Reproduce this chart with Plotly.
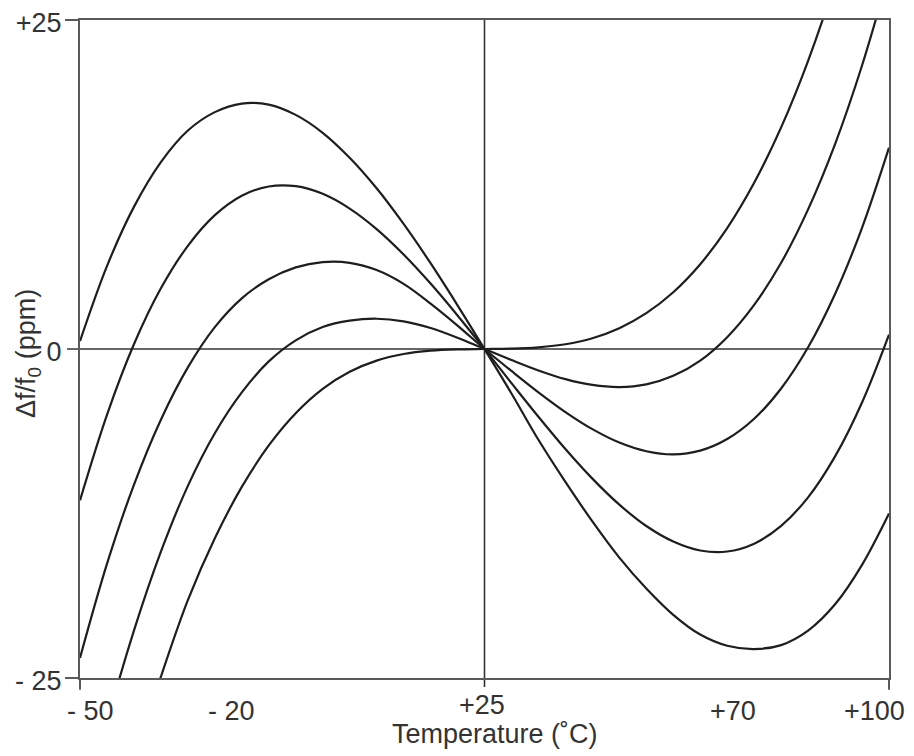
import plotly.graph_objects as go

# Temperature samples (deg C)
temps = [-50, -45, -40, -35, -30, -25, -20, -15, -10, -5, 0, 5, 10, 15, 20, 25,
         30, 35, 40, 45, 50, 55, 60, 65, 70, 75, 80, 85, 90, 95, 100]

# Frequency deviation (ppm), one list per curve
curve_a = [0.60, 6.3, 10.8, 14.2, 16.6, 18.0, 18.65, 18.57, 17.79, 16.43, 14.53, 12.21, 9.50, 6.52, 3.32, 0,
           -3.38, -6.9, -10.1, -13.1, -15.85, -18.2, -20.2, -21.7, -22.55, -22.8, -22.5, -21.4, -19.4, -16.4, -12.5]
curve_b = [-11.50, -5.00, 0.36, 4.61, 7.84, 10.17, 11.65, 12.35, 12.37, 11.79, 10.67, 9.11, 7.18, 4.97, 2.55, 0,
           -2.59, -5.15, -7.60, -9.85, -11.83, -13.45, -14.63, -15.31, -15.39, -14.79, -13.44, -11.27, -8.16, -4.06, 1.10]
curve_c = [-23.48, -16.33, -10.32, -5.37, -1.40, 1.66, 3.85, 5.3, 6.2, 6.6, 6.55, 6.0, 4.95, 3.45, 1.78, 0,
           -1.67, -3.29, -4.79, -6.09, -7.11, -7.77, -8.01, -7.72, -6.84, -5.30, -3.00, 0.13, 4.18, 9.21, 15.30]
curve_d = [-36.5, -28.4, -21.4, -15.4, -10.4, -6.4, -3.3, -0.94, 0.66, 1.67, 2.15, 2.3, 2.1, 1.6, 0.86, 0,
           -0.84, -1.63, -2.29, -2.73, -2.89, -2.69, -2.04, -0.88, 0.90, 3.35, 6.55, 10.61, 15.57, 21.54, 28.57]
curve_e = [-47.5, -38.9, -31.4, -24.9, -19.08, -14.38, -10.48, -7.33, -4.88, -3.03, -1.73, -0.88, -0.38, -0.13, -0.03, 0,
           0.03, 0.13, 0.36, 0.82, 1.58, 2.72, 4.31, 6.44, 9.19, 12.63, 16.84, 21.90, 27.90, 34.90, 42.99]

x_tick_vals = [-50, -20, 25, 70, 100]
x_tick_text = ["- 50", "- 20", "+25", "+70", "+100"]
y_tick_vals = [-25, 0, 25]
y_tick_text = ["- 25", "0", "+25"]

FONT = "Liberation Sans, Arial, sans-serif"
FS = 27
CURVE_COLOR = "#1e1e1e"
FRAME_COLOR = "#5a5a5a"
TEXT_COLOR = "#333333"

fig = go.Figure()
for ys in [curve_a, curve_b, curve_c, curve_d, curve_e]:
    fig.add_trace(go.Scatter(x=temps, y=ys, mode="lines",
                             line=dict(color=CURVE_COLOR, width=2.2, shape="spline", smoothing=1.0),
                             hoverinfo="skip", showlegend=False))

shapes = []
# zero reference lines (extend slightly beyond frame)
shapes.append(dict(type="line", xref="paper", yref="y", x0=-0.016, x1=1, y0=0, y1=0,
                   line=dict(color="#333333", width=1.6), layer="below"))
shapes.append(dict(type="line", xref="x", yref="paper", x0=25, x1=25, y0=-0.0137, y1=1,
                   line=dict(color="#333333", width=1.6), layer="below"))
# small stub extensions of the frame
shapes.append(dict(type="line", xref="paper", yref="paper", x0=-0.0185, x1=0, y0=1, y1=1,
                   line=dict(color=FRAME_COLOR, width=2)))
shapes.append(dict(type="line", xref="paper", yref="paper", x0=-0.0185, x1=0, y0=0, y1=0,
                   line=dict(color=FRAME_COLOR, width=2)))
shapes.append(dict(type="line", xref="paper", yref="paper", x0=0, x1=0, y0=-0.018, y1=0,
                   line=dict(color=FRAME_COLOR, width=2)))
shapes.append(dict(type="line", xref="paper", yref="paper", x0=1, x1=1, y0=-0.018, y1=0,
                   line=dict(color=FRAME_COLOR, width=2)))

# x tick labels placed at their data positions (small pixel nudges as in the reference)
x_label_shift = [10, -10, -3, 6, -15]
x_label_y = [-0.0502, -0.0502, -0.041, -0.0502, -0.0502]
annotations = []
for v, t, dx, yy in zip(x_tick_vals, x_tick_text, x_label_shift, x_label_y):
    annotations.append(dict(text=t, xref="x", yref="paper", x=v, y=yy, xshift=dx,
                            xanchor="center", yanchor="middle", showarrow=False,
                            font=dict(family=FONT, size=FS, color=TEXT_COLOR)))
annotations.append(dict(text="Temperature (˚C)", xref="paper", yref="paper", x=0.513, y=-0.0851,
                        xanchor="center", yanchor="middle", showarrow=False,
                        font=dict(family=FONT, size=FS, color=TEXT_COLOR)))
annotations.append(dict(text="Δf/f<sub>0</sub> (ppm)", xref="paper", yref="paper", x=-0.0643, y=0.494,
                        xanchor="center", yanchor="middle", textangle=-90, showarrow=False,
                        font=dict(family=FONT, size=FS, color=TEXT_COLOR)))

# the page body adds an 8px offset, so the figure is 8px smaller and margins shifted
fig.update_layout(
    width=906, height=748,
    margin=dict(l=72, r=25, t=12, b=78, autoexpand=False),
    paper_bgcolor="white", plot_bgcolor="white",
    font=dict(family=FONT, size=FS, color=TEXT_COLOR),
    shapes=shapes,
    annotations=annotations,
    xaxis=dict(range=[-50, 100], tickmode="array", tickvals=x_tick_vals, ticktext=x_tick_text,
               showticklabels=False, automargin=False,
               showline=True, mirror=True, linecolor=FRAME_COLOR, linewidth=2,
               showgrid=False, zeroline=False, ticks=""),
    yaxis=dict(range=[-25, 25], tickmode="array", tickvals=y_tick_vals, ticktext=y_tick_text,
               automargin=False, ticklabelstandoff=11, ticklabeloverflow="allow", ticklabelshift=3,
               showline=True, mirror=True, linecolor=FRAME_COLOR, linewidth=2,
               showgrid=False, zeroline=False, ticks="",
               tickfont=dict(family=FONT, size=FS, color=TEXT_COLOR)),
)

fig.write_html("out.html")
